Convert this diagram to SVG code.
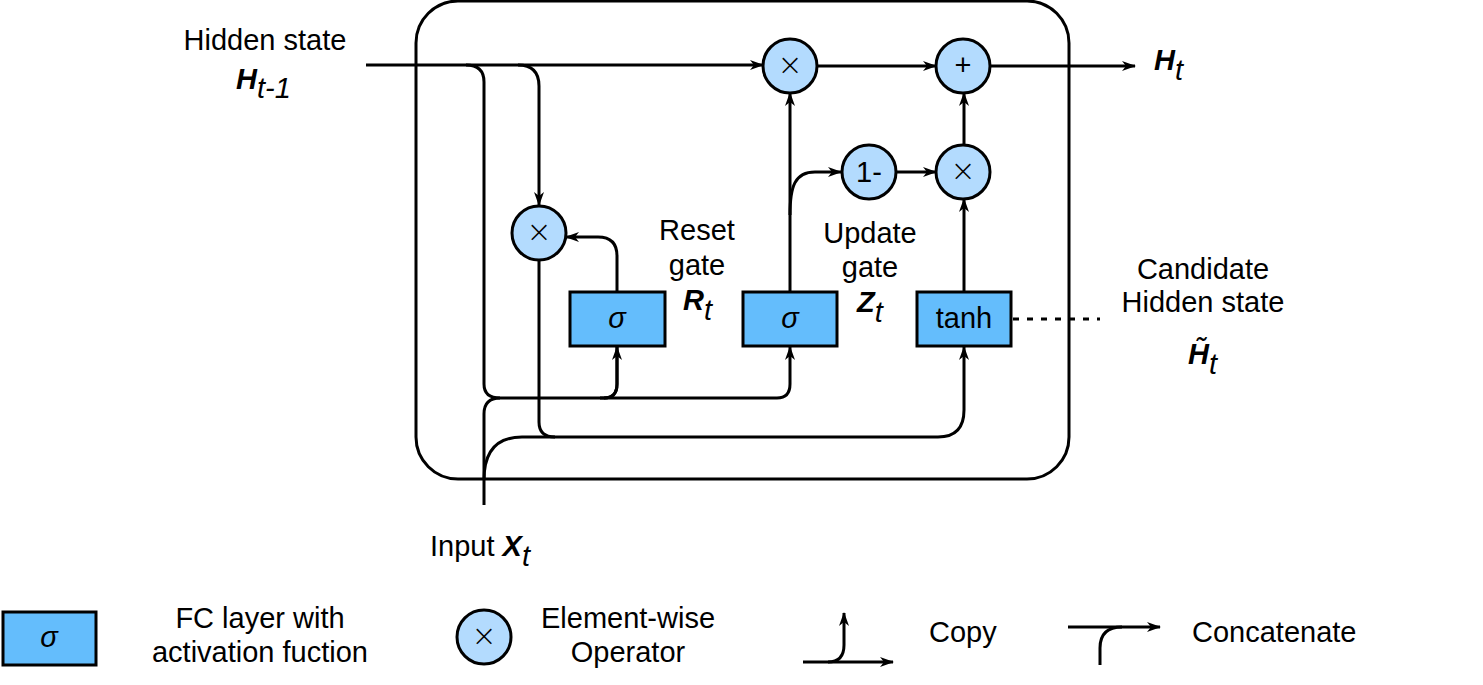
<svg xmlns="http://www.w3.org/2000/svg" width="1483" height="685" viewBox="0 0 1483 685">
<style>
.ln{fill:none;stroke:#000;stroke-width:3}
.lna{fill:none;stroke:#000;stroke-width:3;marker-end:url(#ah)}
.box{fill:#64bdfc;stroke:#000;stroke-width:3}
.op{fill:#b3dbfe;stroke:#000;stroke-width:3}
.t{font-family:"Liberation Sans",Arial,sans-serif;font-size:29px;fill:#000}
.c{text-anchor:middle}
.bi{font-weight:bold;font-style:italic}
.it{font-style:italic}
.sym{font-family:"Liberation Sans",Arial,sans-serif;font-size:29px;fill:#000;text-anchor:middle}
.x{font-family:"DejaVu Sans",sans-serif;font-size:30px;font-weight:200;fill:#000;text-anchor:middle}
</style>
<defs>
<marker id="ah" viewBox="0 0 14 10" refX="13" refY="5" markerWidth="14" markerHeight="10" markerUnits="userSpaceOnUse" orient="auto">
<path d="M0,0 L14,5 L0,10 L4,5 Z" fill="#000"/>
</marker>
</defs>

<g id="cell">
<rect x="416" y="1" width="653" height="478" rx="42" ry="42" fill="none" stroke="#000" stroke-width="3"/>
</g>

<g id="connectors">
<path class="lna" d="M366,65 H763"/>
<path class="ln" d="M466,65 Q484,65 484,82 V384 Q484,398 500,398 H604 Q617,398 617,384 V347"/>
<path class="lna" d="M604,398 Q617,398 617,384 V347"/>
<path class="lna" d="M600,398 H777 Q790,398 790,384 V347"/>
<path class="lna" d="M518,65 Q539,65 539,86 V205"/>
<path class="ln" d="M484,505 V414 Q484,398 500,398"/>
<path class="lna" d="M484,480 Q484,437 522,437 H938 Q964,437 964,410 V347"/>
<path class="ln" d="M539,260 V422 Q539,437 555,437"/>
<path class="lna" d="M617,292 V256 Q617,237 598,237 H566"/>
<path class="lna" d="M790,292 V93"/>
<path class="lna" d="M790,215 C790,186 795,172 815,172 H841"/>
<path class="lna" d="M896,172 H936"/>
<path class="lna" d="M818,66 H936"/>
<path class="lna" d="M964,145 V93"/>
<path class="lna" d="M964,292 V199"/>
<path class="lna" d="M990,66 H1135"/>
<path class="ln" d="M1013,319 H1100" stroke-dasharray="6,8"/>
</g>

<g id="mul-reset"><circle class="op" cx="539" cy="233" r="27"/><text class="x" x="539" y="242">×</text></g>
<g id="mul-top"><circle class="op" cx="790" cy="66" r="27"/><text class="x" x="790" y="75">×</text></g>
<g id="plus"><circle class="op" cx="963" cy="66" r="27"/><text class="sym" x="963" y="75">+</text></g>
<g id="one-minus"><circle class="op" cx="869" cy="172" r="27"/><text class="sym" x="869" y="182">1-</text></g>
<g id="mul-cand"><circle class="op" cx="963" cy="172" r="27"/><text class="x" x="963" y="181">×</text></g>

<g id="reset-gate"><rect class="box" x="570" y="292" width="95" height="54"/><text class="t c it" x="617" y="328">σ</text></g>
<g id="update-gate"><rect class="box" x="743" y="292" width="94" height="54"/><text class="t c it" x="790" y="328">σ</text></g>
<g id="tanh"><rect class="box" x="917" y="292" width="94" height="54"/><text class="t c" x="964" y="328">tanh</text></g>

<g id="labels">
<text class="t c" x="265" y="50">Hidden state</text>
<text class="t" x="236" y="89"><tspan class="bi">H</tspan><tspan class="it" dy="9">t-1</tspan></text>
<text class="t" x="1154" y="70"><tspan class="bi">H</tspan><tspan class="it" dy="10">t</tspan></text>
<text class="t c" x="697" y="240">Reset</text>
<text class="t c" x="697" y="275">gate</text>
<text class="t" x="683" y="310"><tspan class="bi">R</tspan><tspan class="it" dy="10">t</tspan></text>
<text class="t c" x="870" y="243">Update</text>
<text class="t c" x="870" y="277">gate</text>
<text class="t" x="857" y="312"><tspan class="bi">Z</tspan><tspan class="it" dy="10">t</tspan></text>
<text class="t c" x="1203" y="279">Candidate</text>
<text class="t c" x="1203" y="312">Hidden state</text>
<text class="t" x="1188" y="364"><tspan class="bi">H&#x303;</tspan><tspan class="it" dy="10">t</tspan></text>
<text class="t" x="430" y="556">Input <tspan class="bi">X</tspan><tspan class="it" dy="10">t</tspan></text>
</g>

<g id="legend-fc"><rect class="box" x="3" y="612" width="93" height="53"/><text class="t c it" x="49" y="647">σ</text>
<text class="t c" x="260" y="628">FC layer with</text><text class="t c" x="260" y="662">activation fuction</text></g>
<g id="legend-op"><circle class="op" cx="484" cy="637" r="27"/><text class="x" x="484" y="646">×</text>
<text class="t c" x="628" y="628">Element-wise</text><text class="t c" x="628" y="662">Operator</text></g>
<g id="legend-copy"><path class="lna" d="M803,662 H893"/><path class="lna" d="M828,662 Q844,662 844,645 V613"/>
<text class="t" x="929" y="642">Copy</text></g>
<g id="legend-concat"><path class="lna" d="M1068,627 H1160"/><path class="ln" d="M1100,665 V648 Q1100,627 1122,627"/>
<text class="t" x="1192" y="642">Concatenate</text></g>
</svg>
